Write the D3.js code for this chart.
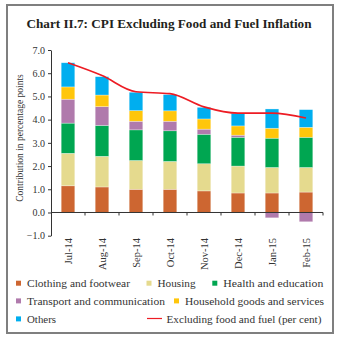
<!DOCTYPE html>
<html><head><meta charset="utf-8">
<script src="https://cdn.jsdelivr.net/npm/d3@7"></script>
<style>body{margin:0;background:#fff;} svg{display:block;font-family:"Liberation Serif","DejaVu Serif",serif;}</style>
</head><body>
<svg id="c" width="343" height="344"></svg>
<script>
const months = ["Jul-14","Aug-14","Sep-14","Oct-14","Nov-14","Dec-14","Jan-15","Feb-15"];
const clothing  = [1.15, 1.10, 1.00, 1.00, 0.93, 0.84, 0.84, 0.88];
const housing   = [1.40, 1.32, 1.24, 1.20, 1.17, 1.16, 1.10, 1.06];
const health    = [1.30, 1.33, 1.32, 1.32, 1.27, 1.24, 1.26, 1.30];
const transport = [1.03, 0.81, 0.37, 0.41, 0.22, 0.09, -0.23, -0.40];
const household = [0.53, 0.50, 0.46, 0.45, 0.44, 0.40, 0.43, 0.43];
const others    = [1.04, 0.79, 0.79, 0.70, 0.50, 0.54, 0.83, 0.76];
const exFoodFuel = [6.45, 5.90, 5.20, 5.12, 4.55, 4.28, 4.28, 4.07];
const yTicks = [-1, 0, 1, 2, 3, 4, 5, 6, 7];

const seriesNames = ["Clothing and footwear","Housing","Health and education","Transport and communication","Household goods and services","Others"];
const seriesData = [clothing, housing, health, transport, household, others];
const colors = ["#CD6631","#E5DA8E","#00A651","#B07AAC","#FFC60B","#00AEEF"];
const lineName = "Excluding food and fuel (per cent)";

const svg = d3.select("#c");
// frame
svg.append("rect").attr("x",7).attr("y",5).attr("width",326).attr("height",328)
  .attr("fill","none").attr("stroke","#7f7f7f").attr("stroke-width",2);

svg.append("text").attr("x",169).attr("y",28).attr("text-anchor","middle")
  .attr("font-weight","bold").attr("font-size",13.2).attr("fill","#231f20")
  .text("Chart II.7: CPI Excluding Food and Fuel Inflation");

const x = d3.scaleBand().domain(months).range([51,323]).paddingInner(0.6).paddingOuter(0.3);
const y = d3.scaleLinear().domain([-1,7]).range([235.7,50]);

// stacking with negatives
const stack = d3.stack().keys(d3.range(seriesData.length)).offset(d3.stackOffsetDiverging);
const table = months.map((m,i)=>{ const o={month:m}; seriesData.forEach((s,k)=>o[k]=s[i]); return o; });
const layers = stack(table);

layers.forEach((layer,k)=>{
  svg.append("g").selectAll("rect").data(layer).join("rect")
    .attr("x",d=>x(d.data.month))
    .attr("width",x.bandwidth())
    .attr("y",d=>y(Math.max(d[0],d[1])))
    .attr("height",d=>Math.abs(y(d[0])-y(d[1])))
    .attr("fill",colors[k])
    .attr("stroke","#fff").attr("stroke-opacity",0.5).attr("stroke-width",0.6);
});

// y axis
const yAxis = d3.axisLeft(y).tickValues(yTicks).tickFormat(d3.format(".1f")).tickSize(3).tickSizeOuter(0);
const gy = svg.append("g").attr("transform","translate(51,0)").call(yAxis);
gy.selectAll("text").attr("font-size",10).attr("fill","#333").attr("font-family","Liberation Serif");
gy.selectAll("line,path").attr("stroke","#333");

// x axis at zero
const gx = svg.append("g").attr("transform",`translate(0,${y(0)})`);
gx.append("line").attr("x1",51).attr("x2",323).attr("stroke","#333");
const step = x.step();
gx.selectAll("line.t").data(months).join("line").attr("class","t")
  .attr("x1",(d,i)=>51+step*(i+1)).attr("x2",(d,i)=>51+step*(i+1))
  .attr("y1",0).attr("y2",3).attr("stroke","#333");

svg.append("g").selectAll("text").data(months).join("text")
  .attr("transform",d=>`translate(${x(d)+x.bandwidth()/2+3.5},238) rotate(-90)`)
  .attr("text-anchor","end").attr("font-size",10.5).attr("fill","#333").text(d=>d);

// y label
svg.append("text").attr("transform","translate(23,138) rotate(-90)")
  .attr("text-anchor","middle").attr("font-size",9.5).attr("fill","#333")
  .text("Contribution in percentage points");

// line
const line = d3.line().x((d,i)=>x(months[i])+x.bandwidth()/2).y(d=>y(d)).curve(d3.curveMonotoneX);
svg.append("path").datum(exFoodFuel).attr("d",line).attr("fill","none")
  .attr("stroke","#ED1C24").attr("stroke-width",1.6);

// legend
const legItems = [
  {k:0,x:16,y:283.3,w:103},{k:1,x:146.5,y:283.3,w:38},{k:2,x:212.3,y:283.3,w:100},
  {k:3,x:16,y:301,w:138},{k:4,x:174,y:301,w:139},
  {k:5,x:16,y:319,w:29}
];
const lg = svg.append("g").attr("font-size",11.2).attr("fill","#333");
legItems.forEach(it=>{
  lg.append("rect").attr("x",it.x).attr("y",it.y-2.6).attr("width",5).attr("height",5).attr("fill",colors[it.k]);
  lg.append("text").attr("x",it.x+11).attr("y",it.y+3.5).attr("fill","#333")
    .attr("textLength",it.w).attr("lengthAdjust","spacingAndGlyphs").text(seriesNames[it.k]);
});
lg.append("line").attr("x1",147).attr("x2",162).attr("y1",318.5).attr("y2",318.5).attr("stroke","#ED1C24").attr("stroke-width",1.2);
lg.append("text").attr("x",166.5).attr("y",322.5).attr("fill","#333")
  .attr("textLength",155).attr("lengthAdjust","spacingAndGlyphs").text(lineName);
</script>
</body></html>
